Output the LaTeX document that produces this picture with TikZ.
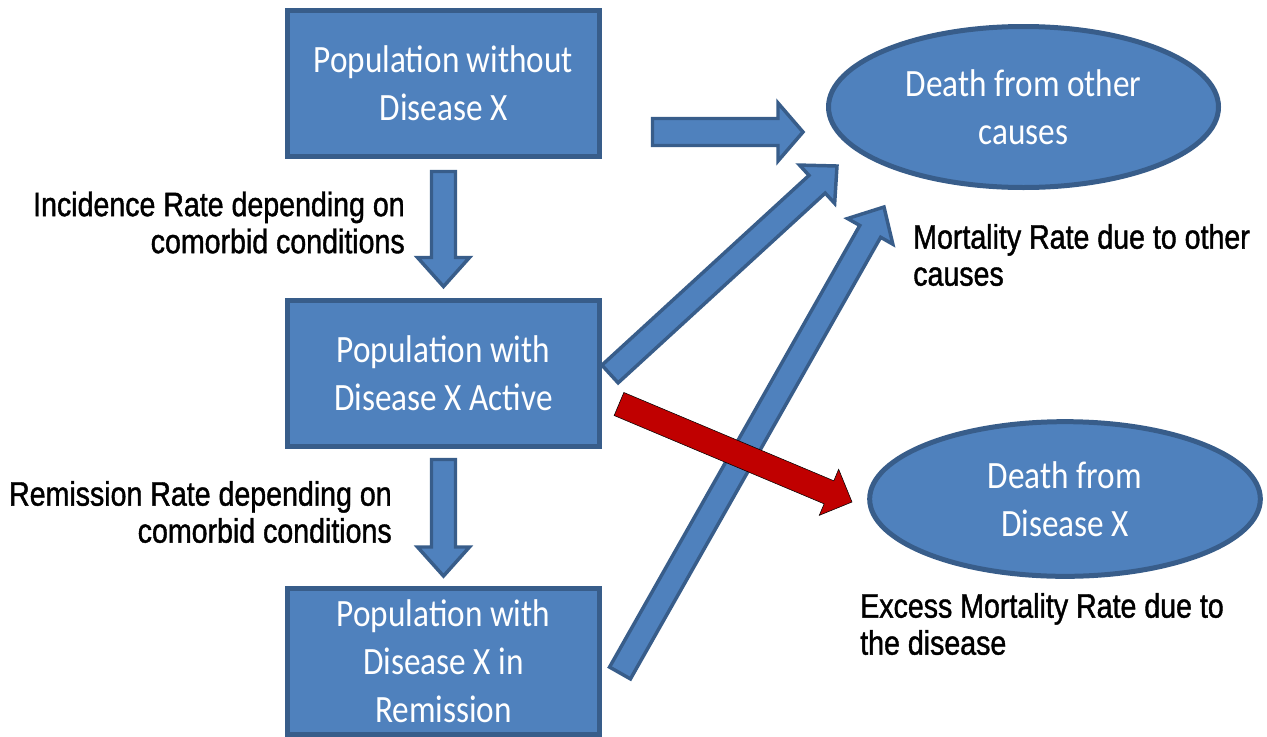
\documentclass[tikz,border=0pt]{standalone}
\usepackage{fontspec}
\setmainfont{Liberation Sans}[FakeStretch=0.84, FakeBold=1.2]
\newfontfamily\boxfont{Carlito}[FakeStretch=0.86]
\usetikzlibrary{shapes.geometric,calc}

\definecolor{boxfill}{RGB}{79,129,189}
\definecolor{boxline}{RGB}{56,93,138}
\definecolor{deathred}{RGB}{192,0,0}

% block arrow: [style]{tail}{tip}{half shaft}{half head}{head length}, sizes in px
\newcommand{\blockarrow}[6][]{%
  \pgfmathsetlengthmacro\bashaft{#4*0.75pt}%
  \pgfmathsetlengthmacro\bahead{#5*0.75pt}%
  \pgfmathsetlengthmacro\balen{#6*0.75pt}%
  \path ($(#3)!\balen!(#2)$) coordinate (ba-base);
  \draw[#1] ($(#2)!\bashaft!90:(#3)$) -- ($(ba-base)!\bashaft!90:(#3)$)
    -- ($(ba-base)!\bahead!90:(#3)$) -- (#3)
    -- ($(ba-base)!\bahead!-90:(#3)$) -- ($(ba-base)!\bashaft!-90:(#3)$)
    -- ($(#2)!\bashaft!-90:(#3)$) -- cycle;
}

\tikzset{
  statebox/.style={draw=boxline, fill=boxfill, line width=3.75pt, minimum width=234pt,
    minimum height=109.5pt, inner sep=0pt, align=center, text=white,
    font=\boxfont\fontsize{29}{36}\selectfont},
  deathnode/.style={ellipse, draw=boxline, fill=boxfill, line width=3.75pt, inner sep=0pt,
    align=center, text=white, font=\boxfont\fontsize{29}{36}\selectfont},
  ratelabel/.style={inner sep=0pt, font=\fontsize{25.5}{27.75}\selectfont},
  flow/.style={draw=boxline, fill=boxfill, line width=2.6pt},
  excessflow/.style={fill=deathred},
}

\begin{document}
\begin{tikzpicture}[x=0.75pt,y=0.75pt,yscale=-1,xscale=1]
\useasboundingbox (0,0) rectangle (1267,736);

%Shape: Rectangle
\node[statebox] (pop1) at (443.5,83.5) {Population without\\Disease X};
%Shape: Rectangle
\node[statebox] (pop2) at (443.5,373) {Population with\\Disease X Active};
%Shape: Rectangle
\node[statebox] (pop3) at (443.5,661.5) {Population with\\Disease X in\\Remission};
%Shape: Ellipse
\node[deathnode, minimum width=292.5pt, minimum height=120.75pt] (dother) at (1023.5,107) {Death from other\\causes};
%Shape: Ellipse
\node[deathnode, minimum width=293pt, minimum height=116pt] (ddis) at (1065,499) {Death from\\Disease X};

% Text Node
\node[ratelabel, anchor=east, align=right] (inclab) at (405,222.5) {Incidence Rate depending on\\comorbid conditions};
% Text Node
\node[ratelabel, anchor=east, align=right] (remlab) at (392,512) {Remission Rate depending on\\comorbid conditions};
% Text Node
\node[ratelabel, anchor=west, align=left] (mortlab) at (913,255) {Mortality Rate due to other\\causes};
% Text Node
\node[ratelabel, anchor=west, align=left] (excesslab) at (860,624) {Excess Mortality Rate due to\\the disease};

% arrow ends
\coordinate (inc-s) at (443.5,171.5);
\coordinate (inc-e) at (443.5,286.5);
\coordinate (rem-s) at (443.5,459.5);
\coordinate (rem-e) at (443.5,576);
\coordinate (oth1-s) at (652.5,132);
\coordinate (oth1-e) at (803,132);
\coordinate (oth2-s) at (610,374);
\coordinate (oth2-e) at (837,166);
\coordinate (oth3-s) at (620,673);
\coordinate (oth3-e) at (884,207);
\coordinate (dis-s) at (619,404);
\coordinate (dis-e) at (852,502);

%Block Arrows
\blockarrow[flow]{inc-s}{inc-e}{12}{26}{29}
\blockarrow[flow]{rem-s}{rem-e}{12}{26}{29}
\blockarrow[flow]{oth1-s}{oth1-e}{13.5}{29}{25}
\blockarrow[flow]{oth2-s}{oth2-e}{12}{26}{27}
\blockarrow[flow]{oth3-s}{oth3-e}{12}{26}{28}
\blockarrow[excessflow]{dis-s}{dis-e}{12.5}{25}{25}

\end{tikzpicture}
\end{document}
